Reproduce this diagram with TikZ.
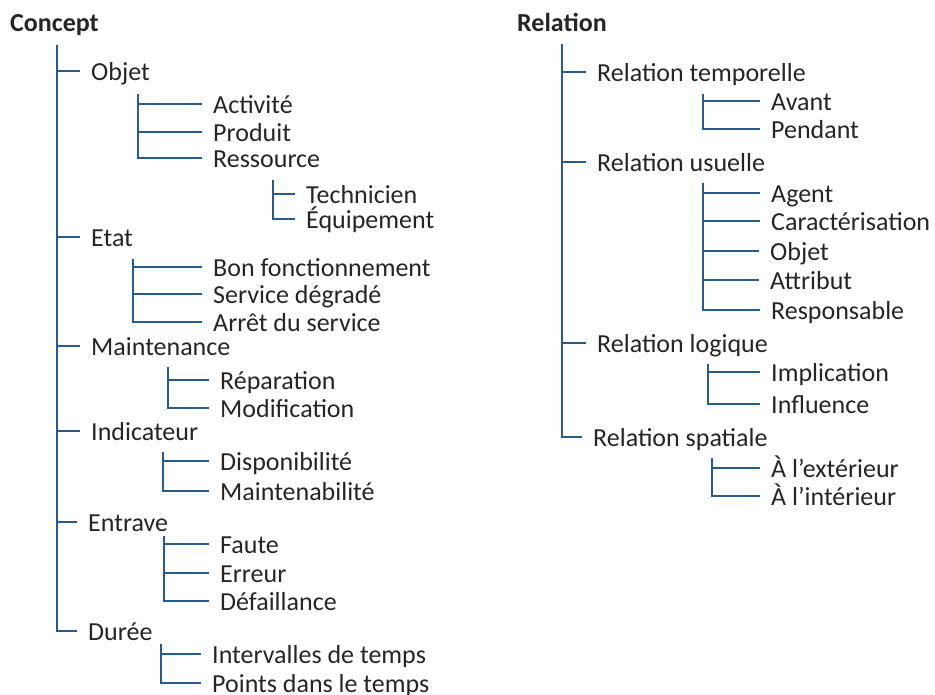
\documentclass[tikz,border=0pt]{standalone}
\usepackage{fontspec}
\setmainfont{Carlito}
\definecolor{lineblue}{HTML}{2A5A88}
\definecolor{txt}{HTML}{252525}
\begin{document}
\begin{tikzpicture}[x=1pt,y=-1pt,
  lbl/.style={anchor=west,inner ysep=0pt,inner xsep=11pt,text height=22pt,text depth=3pt,
    font=\fontsize{26}{30}\selectfont,text=txt},
  ttl/.style={anchor=base west,inner sep=0pt,font=\fontsize{26}{30}\selectfont\bfseries,text=txt},
  trunk/.style={draw=lineblue,line width=1.9pt},
  sub/.style={draw=lineblue,line width=1.3pt}]
\useasboundingbox (0,0) rectangle (935,695);
% ---------- Concept ----------
\node[ttl] (concept) at (10,32) {Concept};
\coordinate (cTop) at (57,45);
\node[lbl] (objet) at (80,71) {Objet};
\node[lbl] (etat) at (80,237) {Etat};
\node[lbl] (maint) at (80,346) {Maintenance};
\node[lbl] (indic) at (80,431) {Indicateur};
\node[lbl] (entrave) at (77,522) {Entrave};
\node[lbl] (duree) at (77,631) {Durée};
\foreach \n in {objet,etat,maint,indic,entrave,duree}
  \draw[trunk] (cTop) |- (\n.west);
% Objet subs
\coordinate (oTop) at (138,94);
\node[lbl] (activite) at (202,104) {Activité};
\node[lbl] (produit) at (202,132) {Produit};
\node[lbl] (ressource) at (202,158) {Ressource};
\foreach \n in {activite,produit,ressource}
  \draw[sub] (oTop) |- (\n.west);
% Ressource subs
\coordinate (rTop) at (273,180);
\node[lbl] (techn) at (295,194) {Technicien};
\node[lbl] (equip) at (295,219) {Équipement};
\foreach \n in {techn,equip}
  \draw[sub] (rTop) |- (\n.west);
% Etat subs
\coordinate (eTop) at (133,259);
\node[lbl] (bon) at (202,267) {Bon fonctionnement};
\node[lbl] (serv) at (202,294) {Service dégradé};
\node[lbl] (arret) at (202,322) {Arrêt du service};
\foreach \n in {bon,serv,arret}
  \draw[sub] (eTop) |- (\n.west);
% Maintenance subs
\coordinate (mTop) at (168,367);
\node[lbl] (repar) at (209,380) {Réparation};
\node[lbl] (modif) at (209,408) {Modification};
\foreach \n in {repar,modif}
  \draw[sub] (mTop) |- (\n.west);
% Indicateur subs
\coordinate (iTop) at (163,452);
\node[lbl] (dispo) at (209,461) {Disponibilité};
\node[lbl] (mainten) at (209,491) {Maintenabilité};
\foreach \n in {dispo,mainten}
  \draw[sub] (iTop) |- (\n.west);
% Entrave subs
\coordinate (enTop) at (164,536);
\node[lbl] (faute) at (209,544) {Faute};
\node[lbl] (erreur) at (209,573) {Erreur};
\node[lbl] (defail) at (209,601) {Défaillance};
\foreach \n in {faute,erreur,defail}
  \draw[sub] (enTop) |- (\n.west);
% Duree subs
\coordinate (dTop) at (161,644);
\node[lbl] (interv) at (201,654) {Intervalles de temps};
\node[lbl] (points) at (201,683) {Points dans le temps};
\foreach \n in {interv,points}
  \draw[sub] (dTop) |- (\n.west);
% ---------- Relation ----------
\node[ttl] (relation) at (517,32) {Relation};
\coordinate (rlTop) at (562,44);
\node[lbl] (rtemp) at (586,72) {Relation temporelle};
\node[lbl] (rusu) at (586,162) {Relation usuelle};
\node[lbl] (rlog) at (586,343) {Relation logique};
\node[lbl] (rspat) at (582,437) {Relation spatiale};
\foreach \n in {rtemp,rusu,rlog,rspat}
  \draw[trunk] (rlTop) |- (\n.west);
% temporelle subs
\coordinate (tTop) at (703,94);
\node[lbl] (avant) at (760,101) {Avant};
\node[lbl] (pendant) at (760,129) {Pendant};
\foreach \n in {avant,pendant}
  \draw[sub] (tTop) |- (\n.west);
% usuelle subs
\coordinate (uTop) at (703,183);
\node[lbl] (agent) at (760,193) {Agent};
\node[lbl] (caract) at (760,221) {Caractérisation};
\node[lbl] (robjet) at (759,251) {Objet};
\node[lbl] (attrib) at (759,280) {Attribut};
\node[lbl] (respons) at (760,310) {Responsable};
\foreach \n in {agent,caract,robjet,attrib,respons}
  \draw[sub] (uTop) |- (\n.west);
% logique subs
\coordinate (lTop) at (708,364);
\node[lbl] (implic) at (760,372) {Implication};
\node[lbl] (influ) at (760,404) {Influence};
\foreach \n in {implic,influ}
  \draw[sub] (lTop) |- (\n.west);
% spatiale subs
\coordinate (sTop) at (712,458);
\node[lbl] (exter) at (760,468) {À l’extérieur};
\node[lbl] (inter) at (760,496) {À l’intérieur};
\foreach \n in {exter,inter}
  \draw[sub] (sTop) |- (\n.west);
\end{tikzpicture}
\end{document}
